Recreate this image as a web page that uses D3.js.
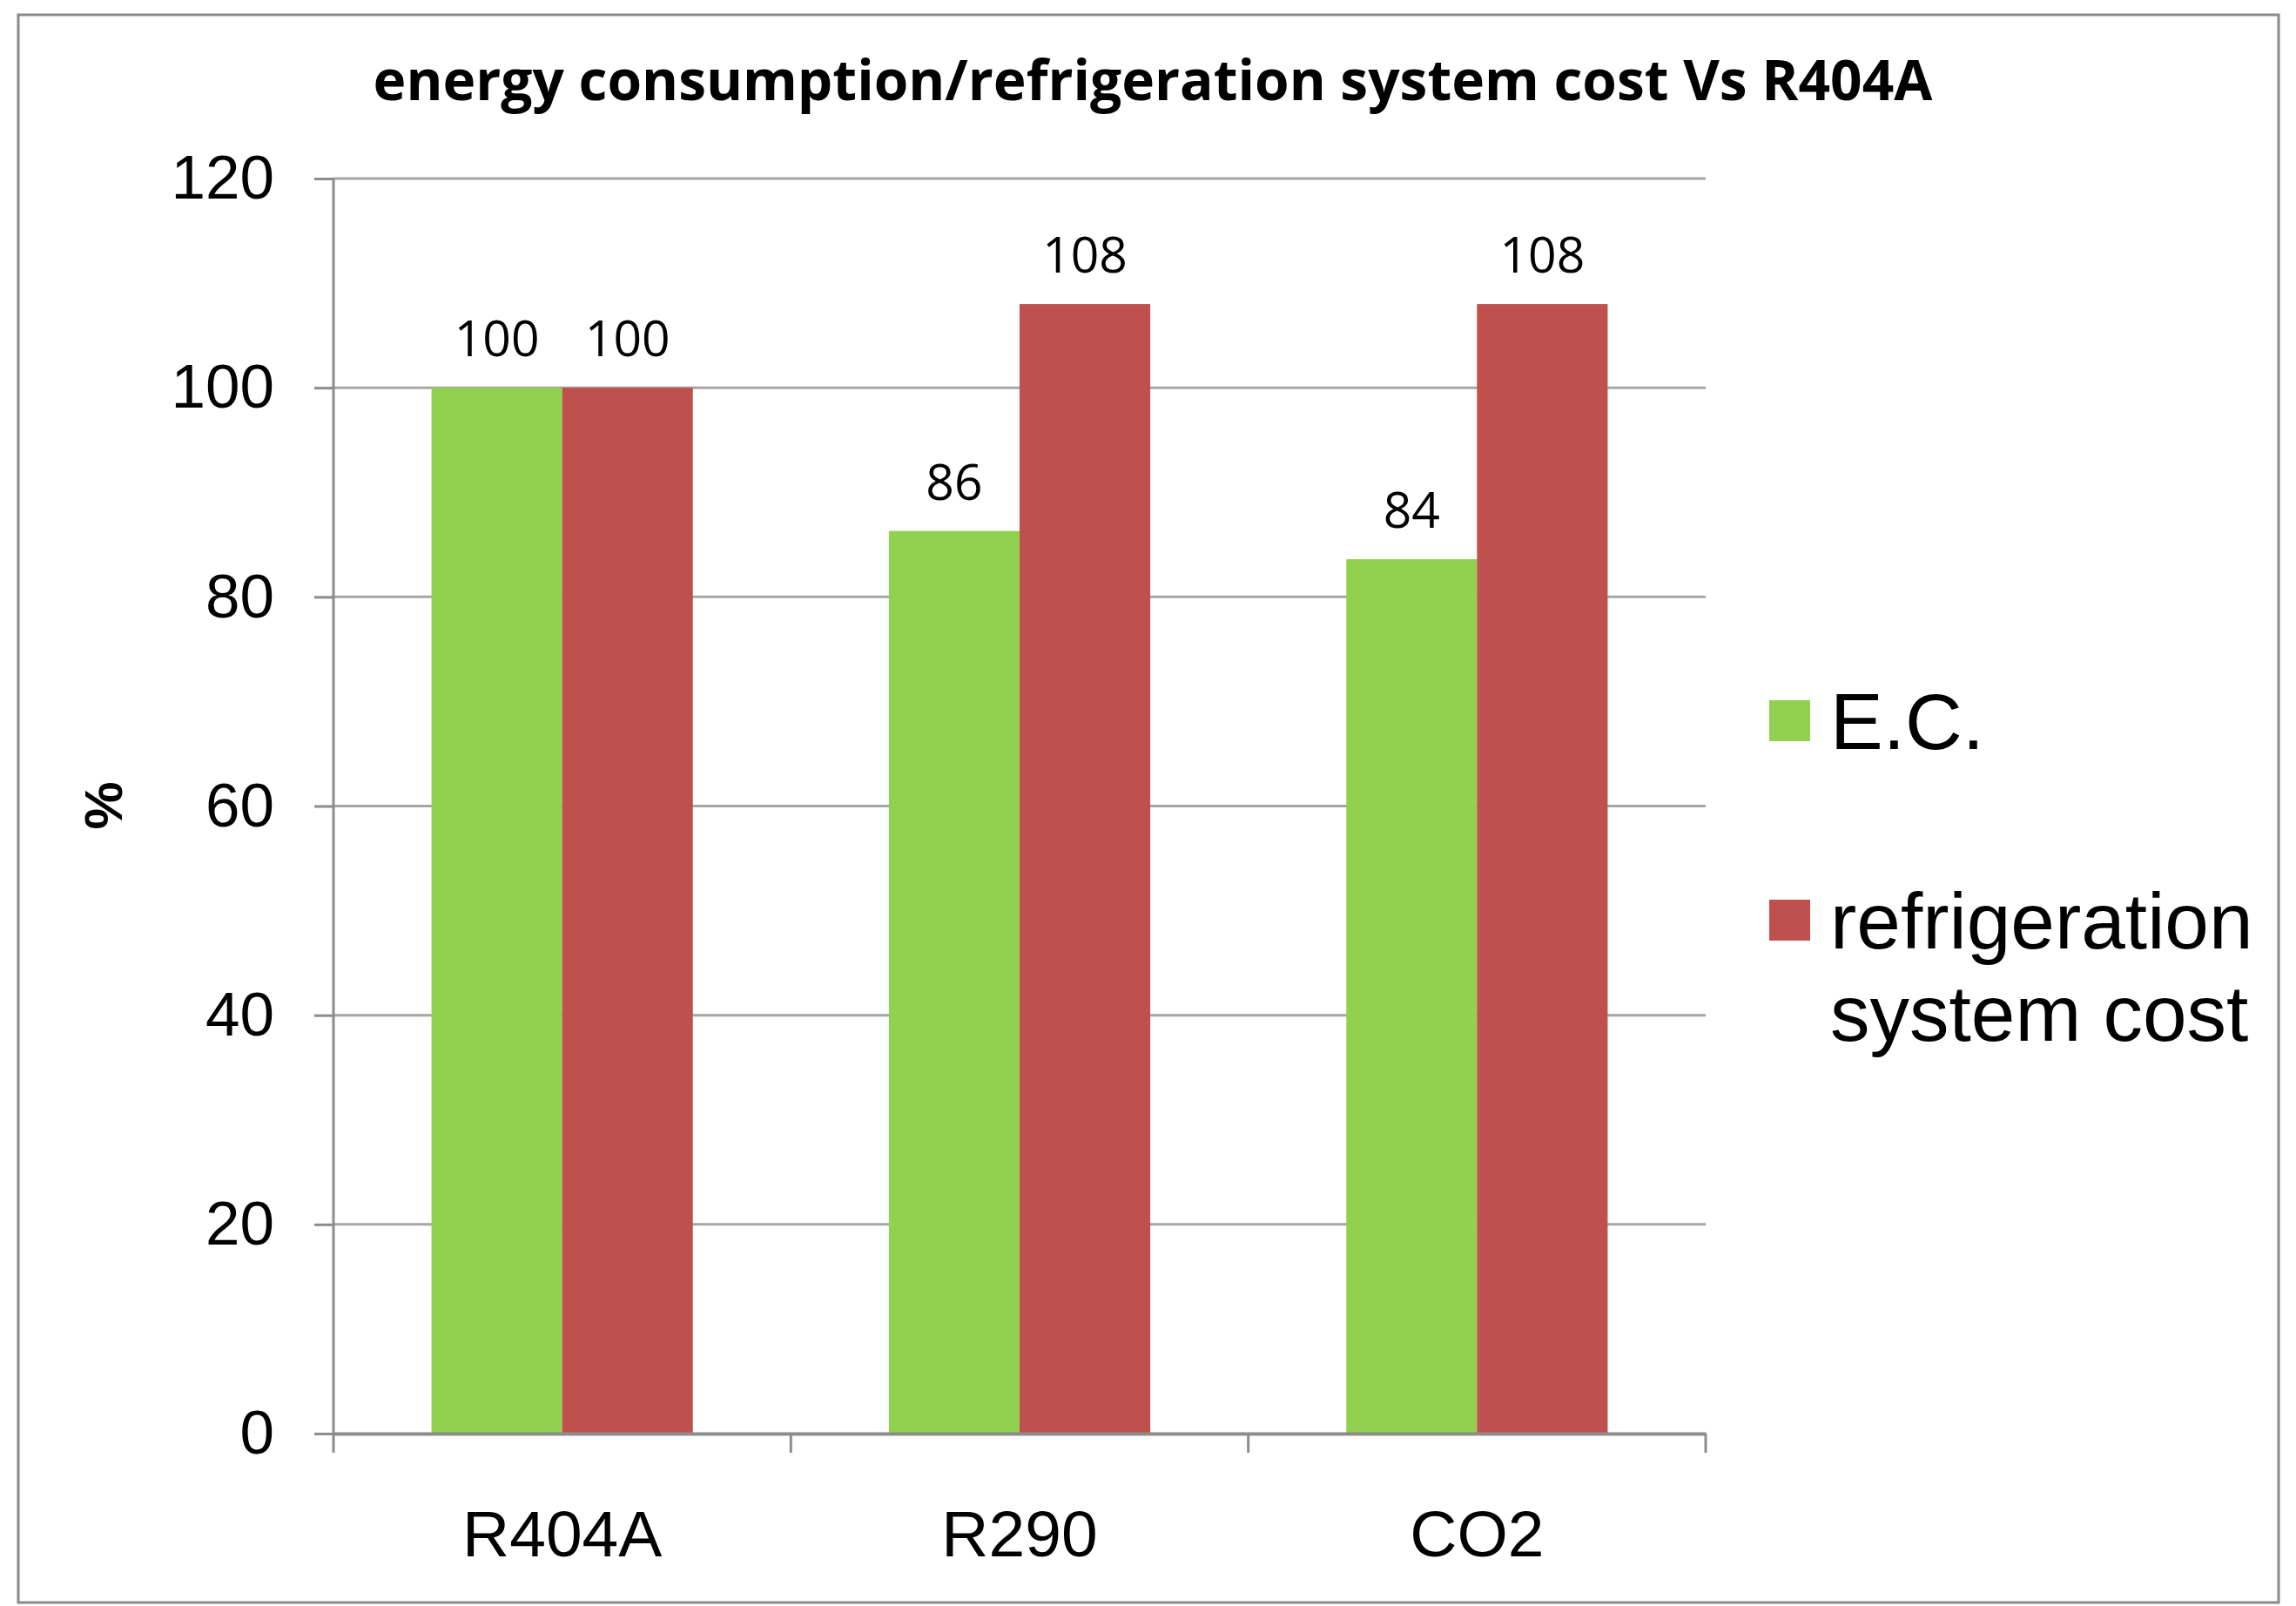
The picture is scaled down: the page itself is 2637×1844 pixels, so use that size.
<!DOCTYPE html>
<html>
<head>
<meta charset="utf-8">
<script src="https://cdn.jsdelivr.net/npm/d3@7"></script>
<style>
  body { margin: 0; background: #fff; }
</style>
</head>
<body>
<div class="chart"></div>
<script>
    // data
    var categories = ['R404A', 'R290', 'CO2']
    var seriesNames = ['E.C.', 'refrigeration system cost']
    var ecValues = [100, 86.3, 83.6]
    var costValues = [100, 108, 108]
    var valueLabels = [['100', '86', '84'], ['100', '108', '108']]
    var yTicks = [0, 20, 40, 60, 80, 100, 120]
    var colors = ['#92D050', '#C0504D']

    var W = 2637, H = 1844
    var margin = { left: 383, right: W - 1959, top: 205, bottom: H - 1646 }
    var width = W - margin.left - margin.right
    var height = H - margin.top - margin.bottom

    var rows = categories.map((c, i) => ({
        category: c,
        values: [ecValues[i], costValues[i]].map((v, j) => ({ key: seriesNames[j], value: v, label: valueLabels[j][i], color: colors[j] }))
    }))

    var x0 = d3.scaleBand().domain(categories).range([0, width]).padding(0)
    var x1 = d3.scaleBand().domain(seriesNames).range([0, x0.bandwidth()]).paddingInner(0).paddingOuter(0.75)
    var y = d3.scaleLinear().domain([0, 120]).range([height, 0])

    var svg = d3.select('.chart')
        .append('svg')
        .attr('width', W)
        .attr('height', H)

    // outer frame
    svg.append('rect')
        .attr('x', 21).attr('y', 17)
        .attr('width', 2596).attr('height', 1823)
        .attr('fill', '#fff')
        .attr('stroke', '#8a8a8a')
        .attr('stroke-width', 3)

    svg.append('text')
        .attr('x', 1324)
        .attr('y', 115)
        .attr('text-anchor', 'middle')
        .style('font-family', "'Open Sans', sans-serif")
        .style('font-weight', 'bold')
        .style('font-size', '64px')
        .text('energy consumption/refrigeration system cost Vs R404A')

    var g = svg.append('g')
        .attr('transform', 'translate(' + margin.left + ',' + margin.top + ')')

    // grid
    g.selectAll('.grid')
        .data(yTicks.filter(d => d > 0))
        .join('line')
        .attr('class', 'grid')
        .attr('x1', 0).attr('x2', width)
        .attr('y1', d => y(d)).attr('y2', d => y(d))
        .attr('stroke', '#a6a6a6')
        .attr('stroke-width', 3)

    // bars
    g.selectAll('.group')
        .data(rows)
        .join('g')
        .attr('class', 'group')
        .attr('transform', d => 'translate(' + x0(d.category) + ',0)')
        .call(sel => {
            sel.selectAll('.bar')
                .data(d => d.values)
                .join('rect')
                .attr('class', 'bar')
                .attr('x', d => x1(d.key))
                .attr('width', x1.bandwidth())
                .attr('y', d => y(d.value))
                .attr('height', d => height - y(d.value))
                .attr('fill', d => d.color)

            sel.selectAll('.val')
                .data(d => d.values)
                .join('text')
                .attr('class', 'val')
                .attr('x', d => x1(d.key) + x1.bandwidth() / 2)
                .attr('y', d => y(d.value) - 36)
                .attr('text-anchor', 'middle')
                .style('font-family', "'Open Sans', sans-serif")
                .style('font-size', '57px')
                .text(d => d.label)
        })

    // y axis
    var yAxis = g.append('g')
        .call(d3.axisLeft(y).tickValues(yTicks).tickSizeInner(22).tickSizeOuter(0).tickPadding(46))
    yAxis.select('.domain').remove()
    yAxis.selectAll('line').attr('stroke', '#8c8c8c').attr('stroke-width', 3)
    yAxis.selectAll('text')
        .style('font-family', "'Liberation Sans', Arial, sans-serif")
        .style('font-size', '71px')
        .attr('fill', '#000')

    // vertical axis line, runs down to the first x tick
    g.append('line')
        .attr('x1', 0).attr('x2', 0)
        .attr('y1', 0).attr('y2', height + 22)
        .attr('stroke', '#8c8c8c')
        .attr('stroke-width', 3)

    // x axis
    var xAxis = g.append('g')
        .attr('transform', 'translate(0,' + height + ')')
        .call(d3.axisBottom(x0).tickSize(0).tickPadding(88))
    xAxis.select('.domain').attr('stroke', '#8c8c8c').attr('stroke-width', 4)
    xAxis.selectAll('text')
        .style('font-family', "'Liberation Sans', Arial, sans-serif")
        .style('font-size', '75px')
        .attr('fill', '#000')

    var bounds = categories.map(c => x0(c)).concat([x0(categories[categories.length - 1]) + x0.bandwidth()])
    xAxis.selectAll('.bound')
        .data(bounds.slice(1))
        .join('line')
        .attr('class', 'bound')
        .attr('x1', d => d).attr('x2', d => d)
        .attr('y1', 0).attr('y2', 22)
        .attr('stroke', '#8c8c8c')
        .attr('stroke-width', 3)

    // y title
    svg.append('text')
        .attr('transform', 'translate(140,925) rotate(-90)')
        .attr('text-anchor', 'middle')
        .style('font-family', "'Liberation Sans', Arial, sans-serif")
        .style('font-weight', 'bold')
        .style('font-size', '62px')
        .text('%')

    // legend
    var legend = svg.append('g')
        .attr('transform', 'translate(2032,0)')
    var legendRows = [
        { lines: ['E.C.'], color: colors[0], top: 804 },
        { lines: ['refrigeration', 'system cost'], color: colors[1], top: 1033 }
    ]
    legend.selectAll('.key')
        .data(legendRows)
        .join('rect')
        .attr('class', 'key')
        .attr('x', 0)
        .attr('y', d => d.top)
        .attr('width', 47)
        .attr('height', 47)
        .attr('fill', d => d.color)
    legend.selectAll('.ltext')
        .data(legendRows)
        .join('text')
        .attr('class', 'ltext')
        .attr('x', 70)
        .attr('y', d => d.top + 56)
        .style('font-family', "'Liberation Sans', Arial, sans-serif")
        .style('font-size', '91px')
        .selectAll('tspan')
        .data(d => d.lines)
        .join('tspan')
        .attr('x', 70)
        .attr('dy', (d, i) => i === 0 ? 0 : 106)
        .text(d => d)
</script>
</body>
</html>
